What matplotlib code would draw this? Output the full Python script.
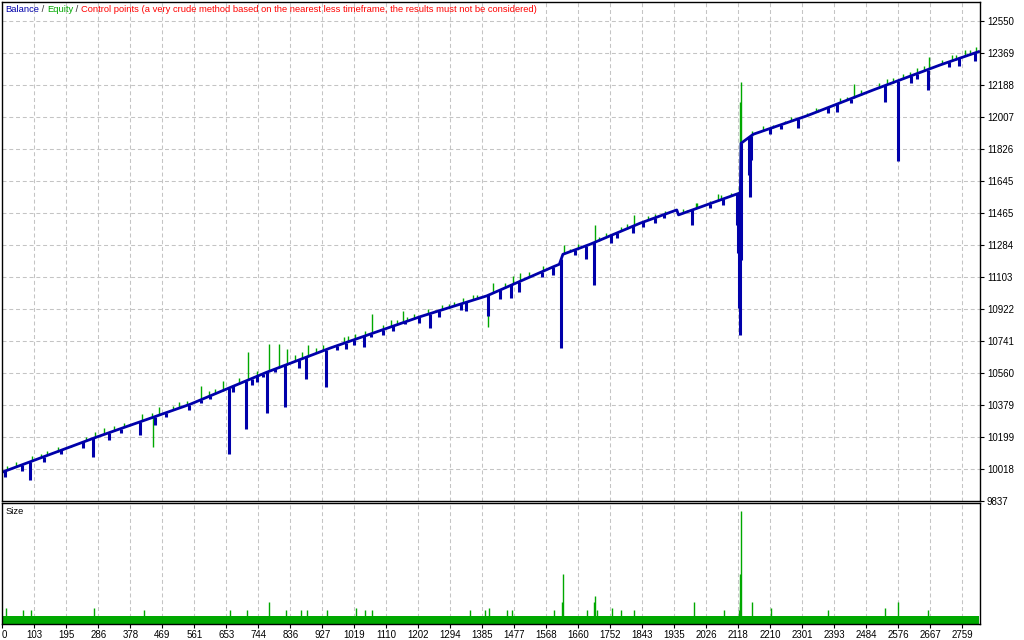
import numpy as np
import matplotlib.pyplot as plt

# balance line waypoints: trade number and account balance
bal_trade = [11, 282, 549, 768, 950, 1207, 1398, 1589, 1606, 1616, 1694, 1837,
             1942, 1947, 2124, 2126, 2161, 2314, 2505, 2696, 2806]
bal_value = [10000, 10199, 10384, 10565, 10702, 10879, 10997, 11162, 11176, 11232,
             11289, 11408, 11483, 11455, 11580, 11860, 11911, 12015, 12162, 12303, 12378]

# equity dips below the balance (trade, lowest equity)
dip_trade = [19, 68, 91, 243, 272, 317, 406, 449, 547, 606, 661, 671, 709, 725, 759,
             770, 792, 821, 862, 881, 938, 969, 995, 1019, 1048, 1067, 1100, 1164, 1205,
             1236, 1324, 1338, 1403, 1436, 1468, 1556, 1589, 1611, 1683, 1706, 1754, 1816,
             1845, 1906, 1987, 2038, 2074, 2114, 2118, 2120, 2123, 2126, 2150, 2152, 2155,
             2209, 2290, 2376, 2400, 2539, 2576, 2612, 2660, 2751, 2796,
             130, 180, 350, 480, 580, 740, 1130, 1260, 1490, 1650, 1770, 1880, 2240,
             2440, 2630, 2720]
dip_value = [9975, 10008, 9956, 10135, 10088, 10182, 10210, 10267, 10352, 10414, 10103,
             10454, 10246, 10493, 10540, 10333, 10568, 10367, 10591, 10525, 10483, 10691,
             10695, 10719, 10706, 10766, 10776, 10836, 10845, 10817, 10917, 10913, 10883,
             10981, 10983, 11102, 11115, 10705, 11204, 11059, 11295, 11355, 11385, 11436,
             11398, 11493, 11511, 11398, 11238, 10927, 10776, 11200, 11681, 11558, 11766,
             11913, 11945, 12033, 12039, 12096, 11762, 12203, 12162, 12299, 12327,
             10060, 10100, 10220, 10310, 10390, 10510, 10800, 10880, 11020, 11230, 11325,
             11410, 11940, 12085, 12225, 12290]

# equity peaks above the balance (trade, highest equity)
peak_trade = [24, 96, 121, 208, 277, 303, 412, 461, 518, 580, 603, 642, 714, 776, 802,
              825, 869, 885, 930, 990, 1021, 1071, 1124, 1158, 1171, 1250, 1289, 1303,
              1370, 1415, 1474, 1494, 1618, 1637, 1709, 1718, 1783, 1821, 1909, 1971, 1997,
              2038, 2059, 2097, 2121, 2124, 2126, 2156, 2217, 2252, 2314, 2346, 2384, 2429,
              2448, 2543, 2589, 2629, 2664, 2729, 2768, 2799,
              50, 140, 170, 250, 330, 360, 440, 500, 540, 620, 690, 740, 850, 910, 1000,
              1050, 1100, 1140, 1190, 1230, 1270, 1330, 1360, 1450, 1520, 1560, 1660, 1740,
              1800, 1860, 1880, 1960, 2000, 2070, 2190, 2270, 2340, 2410, 2470, 2520, 2560,
              2610, 2650, 2700, 2740, 2780]
peak_value = [10037, 10092, 10103, 10150, 10229, 10250, 10329, 10367, 10399, 10488, 10461,
              10516, 10680, 10723, 10725, 10695, 10681, 10718, 10718, 10766, 10782, 10893,
              10861, 10912, 10880, 10917, 10951, 10964, 11002, 11068, 11110, 11125, 11285,
              11262, 11398, 11328, 11385, 11455, 11477, 11483, 11521, 11535, 11573, 11581,
              11615, 12096, 12209, 11930, 11964, 11986, 12030, 12052, 12077, 12124, 12194,
              12222, 12250, 12284, 12347, 12360, 12388, 12403,
              10055, 10120, 10140, 10200, 10262, 10280, 10335, 10372, 10400, 10470, 10530,
              10575, 10660, 10700, 10768, 10800, 10835, 10860, 10895, 10920, 10945, 10985,
              11000, 11070, 11130, 11165, 11290, 11355, 11405, 11450, 11462, 11490, 11520,
              11570, 11955, 12010, 12060, 12115, 12160, 12200, 12230, 12265, 12295, 12330,
              12360, 12385]

# green equity dips
gdip_trade = [444, 1403, 2121]
gdip_value = [10144, 10823, 11398]

# lot size per trade
base_lot = 0.1
lot_trade = [23, 72, 94, 275, 418, 664, 713, 776, 824, 867, 884, 942, 1025, 1051, 1071,
             1349, 1392, 1404, 1456, 1470, 1591, 1613, 1615, 1685, 1704, 1708, 1715, 1756,
             1782, 1819, 1992, 2078, 2119, 2122, 2124, 2127, 2156, 2213, 2375, 2539, 2576, 2660]
lot_size = [0.2, 0.18, 0.18, 0.2, 0.18, 0.18, 0.18, 0.28, 0.18, 0.18, 0.18, 0.18, 0.2, 0.18,
            0.18, 0.18, 0.18, 0.2, 0.18, 0.18, 0.18, 0.27, 0.62, 0.18, 0.27, 0.35, 0.18, 0.2,
            0.18, 0.18, 0.27, 0.18, 0.18, 0.27, 0.62, 1.41, 0.27, 0.2, 0.18, 0.2, 0.27, 0.18]

xticks = [103, 195, 286, 378, 469, 561, 653, 744, 836, 927, 1019, 1110, 1202, 1294, 1385,
          1477, 1568, 1660, 1752, 1843, 1935, 2026, 2118, 2210, 2301, 2393, 2484, 2576,
          2667, 2759]
yticks = [9837, 10018, 10199, 10379, 10560, 10741, 10922, 11103, 11284, 11465, 11645,
          11826, 12007, 12188, 12369, 12550]

BLUE = '#0000AA'
GREEN = '#00A800'
GRID = '#C4C4C4'
first_trade, last_trade = 10.5, 2808

plt.rcParams['font.family'] = 'Liberation Sans'
fig = plt.figure(figsize=(10.24, 6.4), dpi=100)
ax = fig.add_axes([2/1024, 139/640, 978/1024, 499/640])
ax2 = fig.add_axes([2/1024, 16/640, 978/1024, 121/640])

for a in (ax, ax2):
    a.set_xlim(10.5, 2810)
    a.set_axisbelow(True)
    for s in a.spines.values():
        s.set_color('black')
        s.set_linewidth(1.0)

# main panel: balance / equity
ax.set_ylim(9837, 12659)
ax.vlines(peak_trade, np.interp(peak_trade, bal_trade, bal_value), peak_value,
          color=GREEN, lw=1.0)
ax.vlines(gdip_trade, np.interp(gdip_trade, bal_trade, bal_value), gdip_value,
          color=GREEN, lw=1.0)
ax.vlines(dip_trade, np.interp(dip_trade, bal_trade, bal_value), dip_value,
          color=BLUE, lw=2.2)
ax.plot(bal_trade, bal_value, color=BLUE, lw=2.0)

ax.set_xticks(xticks)
ax.set_yticks(yticks)
ax.set_yticklabels([str(v) for v in yticks])
ax.yaxis.tick_right()
ax.tick_params(axis='y', direction='out', length=3, width=0.8, pad=2, labelsize=7)
ax.tick_params(axis='x', length=0, labelbottom=False)
ax.grid(True, color=GRID, linestyle=(0, (3.8, 2.7)), linewidth=0.75)

t = ax.text(3/978, 1 - 8/499, 'Balance', color=BLUE, fontsize=6.75,
            transform=ax.transAxes, va='center', ha='left')
parts = [(' / ', '#333333'), ('Equity', GREEN), (' / ', '#333333'),
         ('Control points (a very crude method based on the nearest less timeframe, '
          'the results must not be considered)', '#FF0000')]
for txt, col in parts:
    t = ax.annotate(txt, xy=(1, 0), xycoords=t, va='bottom', ha='left',
                    color=col, fontsize=6.75)

# lower panel: trade size
ax2.set_ylim(0, 1.51)
ax2.fill_between([first_trade, last_trade], 0, base_lot, color=GREEN, lw=0)
ax2.vlines(lot_trade, 0, lot_size, color=GREEN, lw=1.0)
ax2.set_xticks([10.5] + xticks)
ax2.set_xticklabels(['0'] + [str(v) for v in xticks])
ax2.get_xticklabels()[0].set_ha('left')
ax2.set_yticks([])
ax2.tick_params(axis='x', direction='out', length=3, width=0.8, pad=1.5, labelsize=7)
ax2.grid(True, axis='x', color=GRID, linestyle=(0, (3.8, 2.7)), linewidth=0.75)
ax2.text(4/978, 1 - 9/121, 'Size', fontsize=6.75, transform=ax2.transAxes,
         va='center', ha='left', color='black')

fig.savefig('out.png', dpi=100)
